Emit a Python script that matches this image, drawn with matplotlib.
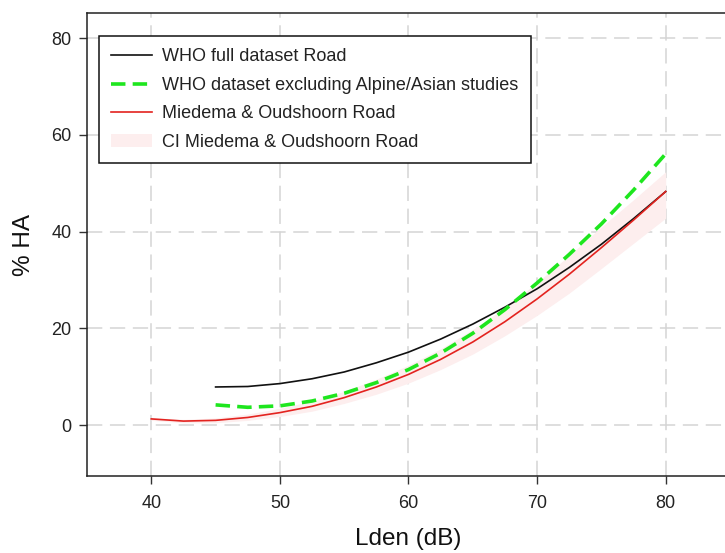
import matplotlib
matplotlib.use("Agg")
import matplotlib.pyplot as plt
from matplotlib.patches import Patch
from matplotlib.lines import Line2D

plt.rcParams['font.family'] = ['Liberation Sans', 'DejaVu Sans']

# Data
lden_who = [45, 47.5, 50, 52.5, 55, 57.5, 60, 62.5, 65, 67.5, 70, 72.5, 75, 77.5, 80]
who_full = [7.9, 8.0, 8.6, 9.6, 11.0, 12.9, 15.1, 17.8, 20.9, 24.4, 28.2, 32.6, 37.4, 42.7, 48.3]
who_excl = [4.2, 3.7, 4.0, 5.0, 6.6, 8.8, 11.5, 14.9, 19.0, 23.9, 29.4, 35.3, 41.6, 48.6, 56.1]

lden_mo = [40, 42.5, 45, 47.5, 50, 52.5, 55, 57.5, 60, 62.5, 65, 67.5, 70, 72.5, 75, 77.5, 80]
mo_road = [1.3, 0.85, 1.0, 1.6, 2.6, 3.9, 5.7, 7.9, 10.5, 13.6, 17.2, 21.4, 26.1, 31.2, 36.7, 42.4, 48.3]
mo_lo = [1.0, 0.5, 0.5, 1.0, 1.8, 2.9, 4.5, 6.4, 8.7, 11.5, 14.7, 18.5, 22.7, 27.3, 32.4, 37.6, 42.8]
mo_hi = [1.6, 1.2, 1.5, 2.3, 3.5, 5.0, 7.0, 9.5, 12.4, 15.8, 19.8, 24.3, 29.5, 35.1, 41.0, 46.6, 52.4]

xticks = [40, 50, 60, 70, 80]
yticks = [0, 20, 40, 60, 80]

fig = plt.figure(figsize=(7.25, 5.53), dpi=100)
ax = fig.add_axes([87 / 725, 1 - 476 / 553, (730 - 87) / 725, (476 - 13) / 553])

ax.set_xlim(35, 85)
ax.set_ylim(-10.5, 85.2)
ax.set_xticks(xticks)
ax.set_yticks(yticks)
ax.set_xticklabels([str(t) for t in xticks])
ax.set_yticklabels([str(t) for t in yticks])

ax.grid(True, color='#d4d4d4', linewidth=1.1, linestyle=(0, (10, 5)))
ax.set_axisbelow(True)

band_color = '#fdeeee'
ax.fill_between(lden_mo, mo_lo, mo_hi, color=band_color, linewidth=0, zorder=2)
ax.plot(lden_who, who_full, color='#111111', linewidth=1.2, zorder=3)
ax.plot(lden_mo, mo_road, color='#e3231f', linewidth=1.2, zorder=4)
ax.plot(lden_who, who_excl, color='#1ee61e', linewidth=2.6, linestyle=(0, (4, 2)), zorder=5)

for s in ax.spines.values():
    s.set_color('#222222')
    s.set_linewidth(1.1)

ax.tick_params(axis='both', direction='out', length=6, width=1, color='#333333',
               labelsize=13, labelcolor='#222222', pad=5)
ax.tick_params(axis='x', pad=8)

ax.set_xlabel('Lden (dB)', fontsize=17.5, color='#111111', labelpad=11)
ax.set_ylabel('% HA', fontsize=17.5, color='#111111', labelpad=12)

handles = [
    Line2D([], [], color='#111111', linewidth=1.2),
    Line2D([], [], color='#1ee61e', linewidth=2.6, linestyle=(0, (4, 2))),
    Line2D([], [], color='#e3231f', linewidth=1.2),
    Patch(facecolor=band_color, edgecolor='none'),
]
labels = ['WHO full dataset Road',
          'WHO dataset excluding Alpine/Asian studies',
          'Miedema & Oudshoorn Road',
          'CI Miedema & Oudshoorn Road']
leg = ax.legend(handles, labels, loc='upper left',
                bbox_to_anchor=((98.5 - 87) / (730 - 87), (476 - 36) / (476 - 13)),
                borderaxespad=0, fontsize=13, frameon=True, fancybox=False,
                edgecolor='#111111', framealpha=1, handlelength=2.3,
                handletextpad=0.55, labelspacing=0.64, borderpad=0.68)
leg.get_frame().set_linewidth(1.1)
for t in leg.get_texts():
    t.set_color('#222222')

fig.savefig('out.png', dpi=100)
